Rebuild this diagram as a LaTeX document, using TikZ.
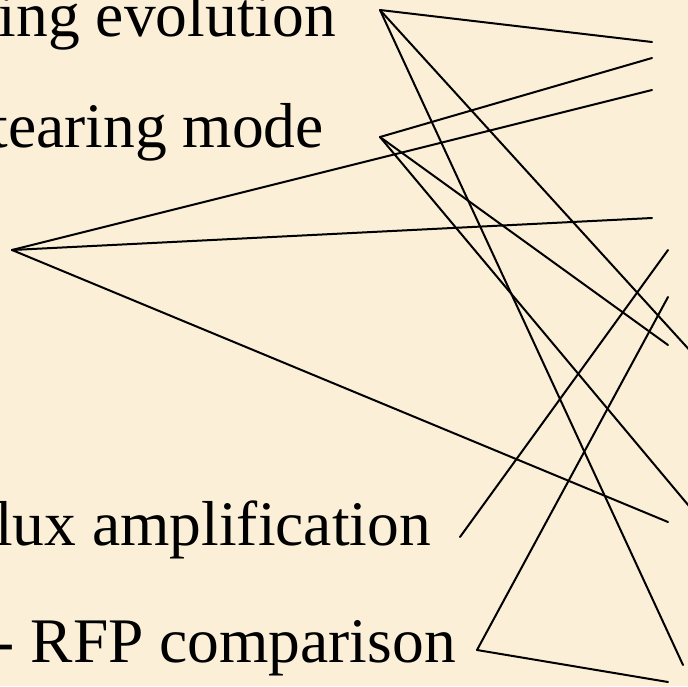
\documentclass[tikz,border=0pt]{standalone}
\usepackage{fontspec}
\setmainfont{Liberation Serif}
\definecolor{parchment}{RGB}{251,240,215}
\tikzset{
  label/.style={anchor=base east, inner sep=0pt, font=\fontsize{63.5}{70}\selectfont},
  link/.style={line width=2pt, black, line cap=round}
}
\begin{document}
\begin{tikzpicture}[x=1pt,y=-1pt]
\useasboundingbox (0,0) rectangle (688,686);
\fill[parchment] (0,0) rectangle (688,686);
\begin{scope}
\clip (0,0) rectangle (688,686);
% labels
\node[label] (evo) at (336,36) {ing evolution};
\node[label] (tear) at (324,147) {tearing mode};
\node[label] (flux) at (431,545) {lux amplification};
\node[label] (rfp) at (456,662) {- RFP comparison};
% fan-out points
\coordinate (pa) at (380,10);
\coordinate (pb) at (380,137);
\coordinate (pc) at (12,250);
\coordinate (pd) at (460,537);
\coordinate (pe) at (477,650);
% far ends
\coordinate (r1) at (652,42);
\coordinate (r2) at (652,58);
\coordinate (r3) at (652,90);
\coordinate (r4) at (652,218);
\coordinate (r5) at (668,250);
\coordinate (r6) at (668,297);
\coordinate (r7) at (668,345);
\coordinate (r8) at (694,355);
\coordinate (r9) at (694,512);
\coordinate (r10) at (668,522);
\coordinate (r11) at (683,665);
\coordinate (r12) at (668,682);
% connectors
\draw[link] (pa) -- (r1);
\draw[link] (pa) -- (r8);
\draw[link] (pa) -- (r11);
\draw[link] (pb) -- (r2);
\draw[link] (pb) -- (r7);
\draw[link] (pb) -- (r9);
\draw[link] (pc) -- (r3);
\draw[link] (pc) -- (r4);
\draw[link] (pc) -- (r10);
\draw[link] (pd) -- (r5);
\draw[link] (pe) -- (r6);
\draw[link] (pe) -- (r12);
\end{scope}
\end{tikzpicture}
\end{document}
